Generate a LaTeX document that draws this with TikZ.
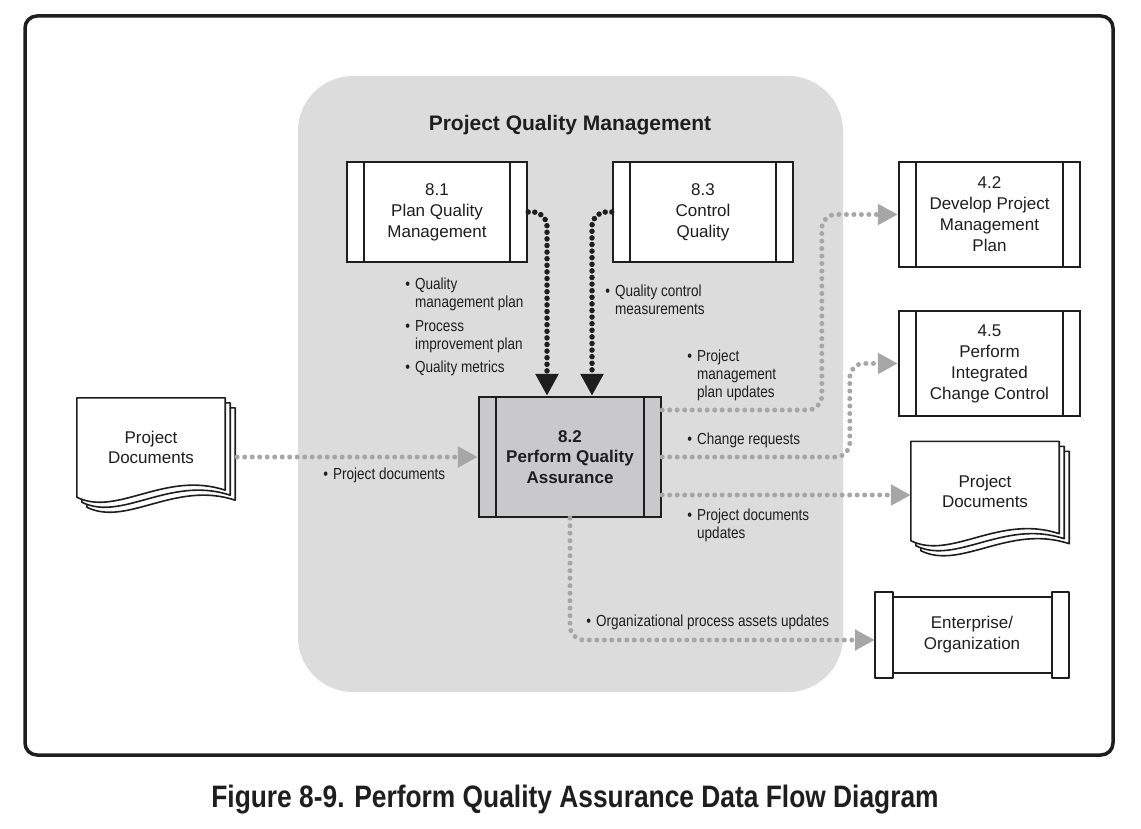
\documentclass[tikz,border=0pt]{standalone}
\usepackage{fontspec}
\setmainfont{Liberation Sans}
\newfontfamily\lblfont[FakeStretch=0.845]{Liberation Sans}
\newfontfamily\capfont[FakeStretch=0.85]{Liberation Sans}
\usetikzlibrary{arrows.meta,calc}
\definecolor{bggrey}{HTML}{DCDCDC}
\definecolor{procgrey}{HTML}{C9C9CC}
\definecolor{dotgrey}{HTML}{A6A6A6}
\definecolor{ink}{HTML}{1E1E1E}
\pgfdeclarelayer{docs}
\pgfsetlayers{docs,main}
\tikzset{
  proc/.style={draw=ink, line width=2.4pt, fill=white, minimum width=180pt, minimum height=100pt,
    inner sep=0pt, align=center, text=ink, font=\fontsize{17}{21}\selectfont,
    path picture={\draw[ink, line width=2.4pt]
      ([xshift=17pt]path picture bounding box.north west) -- ([xshift=17pt]path picture bounding box.south west)
      ([xshift=-17pt]path picture bounding box.north east) -- ([xshift=-17pt]path picture bounding box.south east);}},
  docnode/.style={minimum width=148pt, minimum height=99pt, inner sep=0pt, align=center, text=ink,
    font=\fontsize{17}{20}\selectfont},
  sheet/.style={draw=ink, line width=1.6pt, fill=white, line join=round},
  lbl/.style={anchor=north west, inner sep=0pt, align=left, text=ink,
    font=\lblfont\fontsize{16}{18}\selectfont},
  gry/.style={draw=dotgrey, line width=5pt, dash pattern=on 0pt off 7.5pt, line cap=round,
    rounded corners=14pt, -{Triangle[length=20pt,width=20pt]}},
  blk/.style={draw=ink, line width=5.5pt, dash pattern=on 0pt off 6.6pt, line cap=round,
    rounded corners=14pt, -{Triangle[length=22pt,width=22pt]}},
}
\newcommand{\bl}{\llap{•\hspace{5pt}}}
\newcommand{\docsheets}[1]{%
  \foreach \k in {10,5,0}{%
    \draw[sheet] ($(#1.north west)+(\k,\k)$) -- ($(#1.north east)+(\k,\k)$)
      -- ($(#1.south east)+(\k,\k-7)$)
      .. controls ($(#1.south east)+(\k-60,\k-27)$) and ($(#1.south west)+(\k+40,\k+20)$)
      .. ($(#1.south west)+(\k,\k)$) -- cycle;}}
\begin{document}
\begin{tikzpicture}[x=1pt,y=-1pt]
\useasboundingbox (0,0) rectangle (1141,829);
% outer frame
\draw[ink, line width=3.5pt, rounded corners=12pt] (25,16) rectangle (1113,755);
% grey region
\fill[bggrey, rounded corners=55pt] (298,76) rectangle (843,692);
\node[font=\bfseries\fontsize{21}{24}\selectfont, text=ink] (title) at (570,125) {Project Quality Management};

% processes
\node[proc] (p81) at (437,212) {8.1\\Plan Quality\\Management};
\node[proc] (p83) at (703,212) {8.3\\Control\\Quality};
\node[proc, fill=procgrey, minimum width=182pt, minimum height=120pt,
      font=\bfseries\fontsize{17}{20.5}\selectfont] (p82) at (570,457) {8.2\\Perform Quality\\Assurance};
\node[proc, minimum width=181pt, minimum height=105pt] (p42) at (989.5,214.5) {4.2\\Develop Project\\Management\\Plan};
\node[proc, minimum width=181pt, minimum height=105pt] (p45) at (989.5,363.5) {4.5\\Perform\\Integrated\\Change Control};

% documents
\node[docnode] (pdl) at (151,447.5) {Project\\Documents};
\node[docnode] (pdr) at (985,491) {Project\\Documents};
\node[minimum width=194pt, minimum height=86pt, inner sep=0pt, align=center, text=ink,
      font=\fontsize{17}{21}\selectfont] (ent) at (972,635) {Enterprise/\\Organization};
\begin{pgfonlayer}{docs}
  \docsheets{pdl}
  \docsheets{pdr}
  \draw[sheet, line width=2.4pt] ($(ent.north west)+(18,5)$) rectangle ($(ent.south east)+(-17,-5)$);
  \draw[sheet, line width=2.4pt] (ent.north west) rectangle ($(ent.south west)+(18,0)$);
  \draw[sheet, line width=2.4pt] (ent.north east) rectangle ($(ent.south east)+(-17,0)$);
\end{pgfonlayer}

% connectors
\coordinate (a1) at ($(p82.north)+(-23,0)$);
\coordinate (a2) at ($(p82.north)+(22,0)$);
\draw[blk] (p81.east) -| (a1);
\draw[blk] (p83.west) -| (a2);

\coordinate (s0) at ($(pdl.east |- p82.west)+(12,0)$);
\draw[gry] (s0) -- (p82.west);

\coordinate (o1) at ($(p82.east)+(0,-47)$);
\coordinate (c1) at ($(p42.west)+(-76,0)$);
\draw[gry] (o1) -| (c1) -- (p42.west);
\coordinate (c2) at ($(p45.west)+(-48,0)$);
\draw[gry] (p82.east) -| (c2) -- (p45.west);
\coordinate (o3) at ($(p82.east)+(0,38)$);
\draw[gry] (o3) -- (o3 -| pdr.west);
\coordinate (e1) at ([yshift=-5pt]ent.west);
\draw[gry] (p82.south) |- (e1);

% labels
\node[lbl] (l1) at (415,278) {\bl Quality\\management plan};
\node[lbl] (l2) at (415,320) {\bl Process\\improvement plan};
\node[lbl] (l3) at (415,361) {\bl Quality metrics};
\node[lbl] (l4) at (615,285) {\bl Quality control\\measurements};
\node[lbl] (l5) at (697,350) {\bl Project\\management\\plan updates};
\node[lbl] (l6) at (697,433) {\bl Change requests};
\node[lbl] (l7) at (697,509) {\bl Project documents\\updates};
\node[lbl] (l8) at (596,615) {\bl Organizational process assets updates};
\node[lbl] (l9) at (333,468) {\bl Project documents};

% caption
\node[font=\capfont\bfseries\fontsize{31}{34}\selectfont, text=ink] (cap) at (575,800)
  {Figure 8-9. Perform Quality Assurance Data Flow Diagram};
\end{tikzpicture}
\end{document}
